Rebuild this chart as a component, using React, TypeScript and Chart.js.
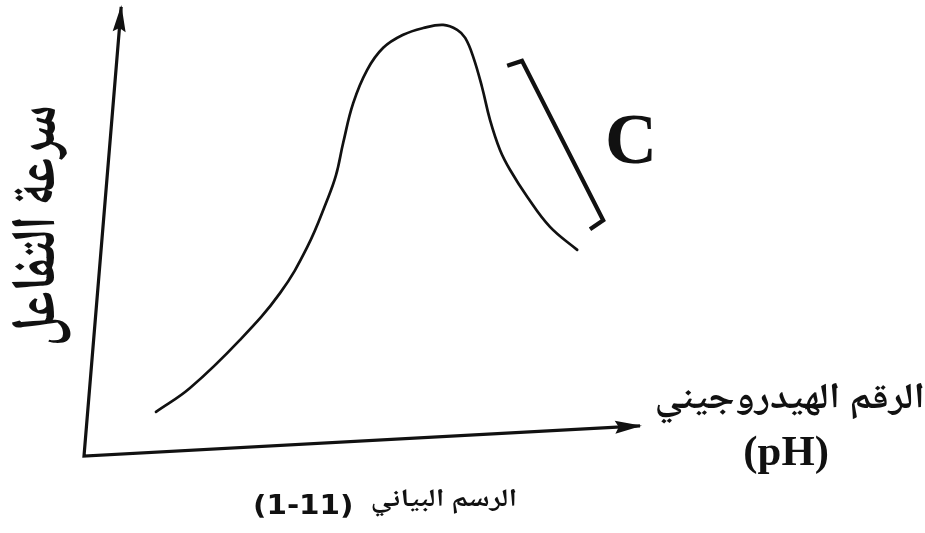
import React, { useEffect, useRef } from "react";
import { Chart, registerables } from "chart.js";

Chart.register(...registerables);

// ---- Data (pH along x, reaction rate along y) ----
const CURVE_PH = [1.8, 2.65, 3.9, 4.9, 5.58, 6.08, 6.3, 6.48, 6.73, 7.08, 7.48, 7.98, 8.48, 8.98, 9.33, 9.53, 9.73, 9.95, 10.15, 10.4, 10.65, 11.08, 11.65, 12.33];
const CURVE_RATE = [9.8, 15.1, 25.8, 36.2, 46.4, 56.9, 62.4, 69.6, 78.4, 85.8, 90.7, 93.6, 95.1, 95.8, 94.7, 92.9, 88.7, 82.0, 74.7, 68.0, 63.6, 57.6, 50.9, 45.8];

// drawn axes (skewed as in the scan): top of rate axis -> origin -> end of pH axis
const AXES_PH = [0.93, 0, 13.9];
const AXES_RATE = [99.8, 0, 6.7];

// bracket "C" marking the falling part of the curve
const BRACKET_PH = [10.58, 10.95, 12.98, 12.65];
const BRACKET_RATE = [86.7, 87.8, 52.4, 50.4];

// scale ranges
const X_MIN = -2.1;
const X_MAX = 21.025;
const Y_MIN = -17.11;
const Y_MAX = 101.33;

// texts
const Y_TITLE = "سرعة التفاعل";
const X_TITLE = "الرقم الهيدروجيني";
const X_UNIT = "(pH)";
const CAPTION_WORDS = "الرسم البياني";
const CAPTION_NUMBER = "(1-11)";
const BRACKET_LABEL = "C";

const INK = "#111111";
const ARABIC_FONT = "'Noto Naskh Arabic', 'Noto Sans Arabic', 'DejaVu Sans', sans-serif";
const DIGIT_FONT = "'DejaVu Sans', sans-serif";
const SERIF_FONT = "'Liberation Serif', 'DejaVu Serif', serif";

function drawFitted(
  ctx: CanvasRenderingContext2D,
  str: string,
  cx: number,
  cy: number,
  targetW: number,
  targetH: number,
  family: string,
  rot: number,
  dir: CanvasDirection
) {
  ctx.save();
  ctx.direction = dir;
  ctx.textAlign = "left";
  ctx.textBaseline = "alphabetic";
  ctx.font = `bold 100px ${family}`;
  let m = ctx.measureText(str);
  const w = m.actualBoundingBoxLeft + m.actualBoundingBoxRight;
  const size = (100 * targetW) / w;
  ctx.font = `bold ${size}px ${family}`;
  m = ctx.measureText(str);
  const left = -m.actualBoundingBoxLeft;
  const right = m.actualBoundingBoxRight;
  const top = -m.actualBoundingBoxAscent;
  const bottom = m.actualBoundingBoxDescent;
  const sy = targetH > 0 ? targetH / (bottom - top) : 1;
  ctx.translate(cx, cy);
  ctx.rotate(rot);
  ctx.scale(1, sy);
  ctx.fillStyle = INK;
  ctx.fillText(str, -(left + right) / 2, -(top + bottom) / 2);
  ctx.restore();
}

function arrowHead(ctx: CanvasRenderingContext2D, tip: any, from: any) {
  const ang = Math.atan2(tip.y - from.y, tip.x - from.x);
  const L = 25;
  const W = 6.5;
  ctx.save();
  ctx.translate(tip.x, tip.y);
  ctx.rotate(ang);
  ctx.beginPath();
  ctx.moveTo(2, 0);
  ctx.lineTo(-L, -W);
  ctx.lineTo(-L * 0.85, 0);
  ctx.lineTo(-L, W);
  ctx.closePath();
  ctx.fillStyle = INK;
  ctx.fill();
  ctx.restore();
}

const figurePlugin = {
  id: "figure",
  beforeDraw(chart: any) {
    const { ctx, width, height } = chart;
    ctx.save();
    ctx.fillStyle = "#ffffff";
    ctx.fillRect(0, 0, width, height);
    ctx.restore();
  },
  afterDatasetsDraw(chart: any) {
    const { ctx } = chart;
    const xs = chart.scales.x;
    const ys = chart.scales.y;
    chart.data.datasets.forEach((ds: any, i: number) => {
      if (!ds.arrows) return;
      const pts = chart.getDatasetMeta(i).data;
      arrowHead(ctx, pts[0], pts[1]);
      arrowHead(ctx, pts[pts.length - 1], pts[pts.length - 2]);
    });
    const px = (v: number) => xs.getPixelForValue(v);
    const py = (v: number) => ys.getPixelForValue(v);
    drawFitted(ctx, Y_TITLE, px(-1.05), py(51.3), 236, 60, ARABIC_FONT, -Math.PI / 2, "rtl");
    drawFitted(ctx, X_TITLE, px(17.65), py(11.6), 266, 41, ARABIC_FONT, 0, "rtl");
    drawFitted(ctx, X_UNIT, px(17.55), py(0.2), 82, 0, SERIF_FONT, 0, "ltr");
    drawFitted(ctx, CAPTION_WORDS, px(9.0), py(-10.44), 143, 28, ARABIC_FONT, 0, "rtl");
    drawFitted(ctx, CAPTION_NUMBER, px(5.475), py(-11.2), 96, 25, DIGIT_FONT, 0, "ltr");
    drawFitted(ctx, BRACKET_LABEL, px(13.65), py(70.4), 44, 0, SERIF_FONT, 0, "ltr");
  },
};

export default function App() {
  const ref = useRef<HTMLCanvasElement>(null);
  useEffect(() => {
    const toPts = (xs: number[], ys: number[]) => xs.map((x, i) => ({ x, y: ys[i] }));
    const chart = new Chart(ref.current as HTMLCanvasElement, {
      type: "line",
      data: {
        datasets: [
          {
            label: "axes",
            data: toPts(AXES_PH, AXES_RATE),
            borderColor: INK,
            borderWidth: 3.2,
            tension: 0,
            pointRadius: 0,
            borderJoinStyle: "miter",
            clip: false,
            arrows: true,
          } as any,
          {
            label: "rate",
            data: toPts(CURVE_PH, CURVE_RATE),
            borderColor: INK,
            borderWidth: 2.7,
            tension: 0.4,
            pointRadius: 0,
            borderCapStyle: "round",
            clip: false,
          } as any,
          {
            label: "C",
            data: toPts(BRACKET_PH, BRACKET_RATE),
            borderColor: INK,
            borderWidth: 4.2,
            tension: 0,
            pointRadius: 0,
            borderJoinStyle: "miter",
            borderCapStyle: "butt",
            clip: false,
          } as any,
        ],
      },
      options: {
        animation: false,
        responsive: true,
        maintainAspectRatio: false,
        layout: { padding: 0 },
        events: [],
        scales: {
          x: { type: "linear", min: X_MIN, max: X_MAX, display: false },
          y: { type: "linear", min: Y_MIN, max: Y_MAX, display: false },
        },
        plugins: {
          legend: { display: false },
          tooltip: { enabled: false },
          title: { display: false },
        },
      },
      plugins: [figurePlugin],
    });
    return () => chart.destroy();
  }, []);
  return (
    <div style={{ position: "fixed", left: 0, top: 0, width: 925, height: 533, background: "#fff" }}>
      <canvas ref={ref} />
    </div>
  );
}
